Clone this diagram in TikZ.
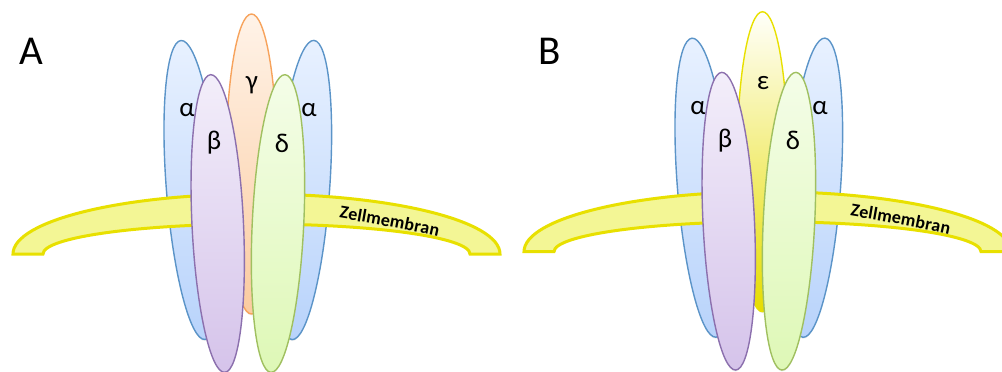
\documentclass[tikz,border=0pt]{standalone}
\usepackage{fontspec}
\setmainfont{Carlito}
\usetikzlibrary{shapes.geometric,shadows,decorations.text}
\definecolor{memfill}{HTML}{F3F695}
\definecolor{memline}{HTML}{E8E000}
\definecolor{HTMLa}{HTML}{5B94C8}
\definecolor{HTMLb}{HTML}{E8F1FF}
\definecolor{HTMLc}{HTML}{B8D3FB}
\definecolor{gamL}{HTML}{F7A35C}
\definecolor{gamT}{HTML}{FFF3E8}
\definecolor{gamB}{HTML}{FBCBA0}
\definecolor{epsL}{HTML}{E8E000}
\definecolor{epsT}{HTML}{FFFFFA}
\definecolor{epsM}{HTML}{F5F09A}
\definecolor{epsB}{HTML}{E6DC00}
\definecolor{betL}{HTML}{8C70AE}
\definecolor{betT}{HTML}{F3EEFA}
\definecolor{betB}{HTML}{D5C3EA}
\definecolor{delL}{HTML}{A0C060}
\definecolor{delT}{HTML}{F4FDE8}
\definecolor{delB}{HTML}{DEF8B6}
\tikzset{
  x=1pt,y=-1pt,
  oval/.style={ellipse,inner sep=0pt,line width=1.4pt,
    drop shadow={opacity=.12,shadow xshift=0pt,shadow yshift=-1.5pt}},
  alphaoval/.style={oval,draw=HTMLa,top color=HTMLb,bottom color=HTMLc,minimum width=53pt,minimum height=300pt},
  gammaoval/.style={oval,draw=gamL,top color=gamT,bottom color=gamB,minimum width=51pt,minimum height=300pt},
  epsoval/.style={oval,draw=epsL,top color=epsT,middle color=epsM,bottom color=epsB,minimum width=51pt,minimum height=300pt},
  betaoval/.style={oval,draw=betL,top color=betT,bottom color=betB,minimum width=51.5pt,minimum height=298pt},
  deltaoval/.style={oval,draw=delL,top color=delT,bottom color=delB,minimum width=51.5pt,minimum height=298pt},
  greek/.style={font=\fontsize{27}{27}\selectfont,inner sep=0pt,text=black},
  panelmark/.style={font=\fontsize{41}{41}\selectfont,inner sep=0pt,text=black},
  membrane/.style={draw=memline,fill=memfill,line width=3pt,line join=miter}
}
% One receptor: #1 name prefix, #2 style of the rear subunit, #3 its letter
\newcommand{\receptor}[3]{%
  \node[alphaoval,rotate=4.6] (#1al) at (193,190) {};
  \node[alphaoval,rotate=-4.2] (#1ar) at (303,190) {};
  \node[greek] (#1tal) at (187,110) {α};
  \node[greek] (#1tar) at (309,110) {α};
  \draw[membrane] (13,254) arc[start angle=180,end angle=0,x radius=243.5pt,y radius=60pt]
     -- (470,254) arc[start angle=0,end angle=180,x radius=213.5pt,y radius=30pt] -- cycle;
  \path[decorate,decoration={text along path,text align=fit to path,
      text={|\fontsize{18}{18}\selectfont\bfseries|Zellmembran}}]
     (339,218) .. controls (372,223.5) and (405,229.5) .. (438,237);
  \node[#2] (#1rear) at (251.5,164) {};
  \node[greek] (#1trear) at (252,85) {#3};
  \node[betaoval,rotate=2.7] (#1b) at (217.7,223.5) {};
  \node[deltaoval,rotate=-2.7] (#1d) at (278,223.5) {};
  \node[greek] (#1tb) at (214,143) {β};
  \node[greek] (#1td) at (282,143) {δ};
}
\begin{document}
\begin{tikzpicture}
\useasboundingbox (0,0) rectangle (1002,372);
\clip (0,0) rectangle (1002,372);
\node[panelmark] (markA) at (31,51) {A};
\node[panelmark] (markB) at (550,51) {B};
\begin{scope}
  \receptor{p}{gammaoval}{γ}
\end{scope}
\begin{scope}[shift={(511,-2.3)}]
  \receptor{q}{epsoval}{ε}
\end{scope}
\end{tikzpicture}
\end{document}
